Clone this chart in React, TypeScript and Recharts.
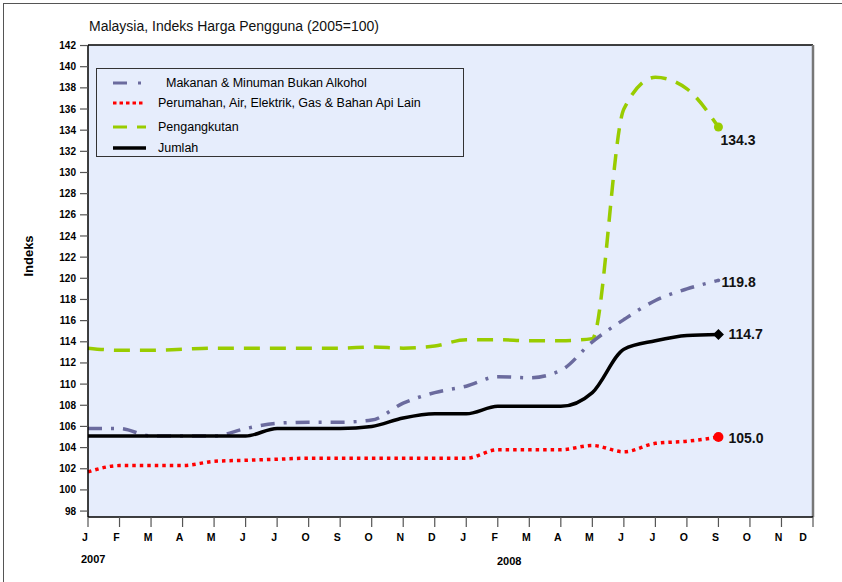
import React from 'react';
import { LineChart, Line, XAxis, YAxis, CartesianGrid, ReferenceLine } from 'recharts';

// label bulan (Jan 2007 - Dis 2008), ikut carta asal
const bulan = ['J', 'F', 'M', 'A', 'M', 'J', 'J', 'O', 'S', 'O', 'N', 'D', 'J', 'F', 'M', 'A', 'M', 'J', 'J', 'O', 'S', 'O', 'N', 'D'];
const yTicks = [98, 100, 102, 104, 106, 108, 110, 112, 114, 116, 118, 120, 122, 124, 126, 128, 130, 132, 134, 136, 138, 140, 142];

// indeks bulanan, Jan 2007 - Sep 2008
const makanan = [105.8, 105.8, 105.1, 105.1, 105.1, 105.8, 106.3, 106.4, 106.4, 106.6, 108.2, 109.2, 109.8, 110.7, 110.6, 111.3, 114.0, 116.1, 117.9, 119.0, 119.8];
const perumahan = [101.7, 102.3, 102.3, 102.3, 102.7, 102.8, 102.9, 103.0, 103.0, 103.0, 103.0, 103.0, 103.0, 103.8, 103.8, 103.8, 104.2, 103.6, 104.4, 104.6, 105.0];
const pengangkutan = [113.4, 113.2, 113.2, 113.3, 113.4, 113.4, 113.4, 113.4, 113.4, 113.5, 113.4, 113.6, 114.2, 114.2, 114.1, 114.1, 114.3, 136.0, 139.0, 137.9, 134.3];
const jumlah = [105.1, 105.1, 105.1, 105.1, 105.1, 105.1, 105.8, 105.8, 105.8, 106.0, 106.8, 107.2, 107.2, 107.9, 107.9, 107.9, 109.2, 113.3, 114.1, 114.6, 114.7];

const data = makanan.map((v, i) => ({
  x: i,
  makanan: v,
  perumahan: perumahan[i],
  pengangkutan: pengangkutan[i],
  jumlah: jumlah[i],
}));
const last = data.length - 1;

const FONT = '"Liberation Sans", Arial, sans-serif';
const warna = {
  makanan: '#6B6B9E',
  perumahan: '#FF0000',
  pengangkutan: '#99CC00',
  jumlah: '#000000',
};

const labelStyle = { fontFamily: FONT, fontSize: 14, fontWeight: 700, fill: '#111' };

// penanda + label nilai di hujung siri
const hujung = (jenis: string) => (props: any) => {
  const { cx, cy, index, value } = props;
  if (index !== last) return <g key={`d-${jenis}-${index}`} />;
  const txt = Number(Array.isArray(value) ? value[1] : value).toFixed(1);
  if (jenis === 'pengangkutan') {
    return (
      <g key={`d-${jenis}`}>
        <circle cx={cx} cy={cy} r={4.5} fill={warna.pengangkutan} />
        <text x={cx + 2} y={cy + 13} dominantBaseline="central" {...labelStyle}>{txt}</text>
      </g>
    );
  }
  if (jenis === 'makanan') {
    return (
      <g key={`d-${jenis}`}>
        <circle cx={cx} cy={cy} r={1.8} fill={warna.makanan} />
        <text x={cx + 3} y={cy + 2} dominantBaseline="central" {...labelStyle}>{txt}</text>
      </g>
    );
  }
  if (jenis === 'jumlah') {
    const s = 5.5;
    return (
      <g key={`d-${jenis}`}>
        <polygon points={`${cx},${cy - s} ${cx + s},${cy} ${cx},${cy + s} ${cx - s},${cy}`} fill="#000" />
        <text x={cx + 10} y={cy} dominantBaseline="central" {...labelStyle}>{txt}</text>
      </g>
    );
  }
  return (
    <g key={`d-${jenis}`}>
      <circle cx={cx} cy={cy} r={5} fill={warna.perumahan} />
      <text x={cx + 10} y={cy + 1} dominantBaseline="central" {...labelStyle}>{txt}</text>
    </g>
  );
};

const XTick = (props: any) => {
  const { x, y, payload, index } = props;
  const dx = index === bulan.length - 1 ? -10 : -3;
  return (
    <text x={x + dx} y={y} dy="0.71em" textAnchor="middle" fontFamily={FONT} fontSize={10.5} fontWeight={700} fill="#000">
      {bulan[payload.value]}
    </text>
  );
};

const KotakLegenda = () => {
  const item = (top: number, left: number, icon: React.ReactNode, teks: string) => (
    <div style={{ position: 'absolute', top, left: 0, height: 16, width: '100%' }}>
      <svg width={40} height={16} style={{ position: 'absolute', left: 14, top: 0 }}>{icon}</svg>
      <span style={{ position: 'absolute', left, top: 0, lineHeight: '16px', whiteSpace: 'nowrap' }}>{teks}</span>
    </div>
  );
  return (
    <div style={{ position: 'absolute', left: 96, top: 68, width: 368, height: 89, boxSizing: 'border-box', border: '1px solid #333', background: '#E6EDFC', fontFamily: FONT, fontSize: 12.5, color: '#000' }}>
      {item(6, 69,
        <g>
          <line x1={2} x2={16} y1={8} y2={8} stroke={warna.makanan} strokeWidth={3} />
          <line x1={27} x2={30} y1={8} y2={8} stroke={warna.makanan} strokeWidth={3} />
        </g>, 'Makanan & Minuman Bukan Alkohol')}
      {item(26, 61,
        <line x1={2} x2={33} y1={8} y2={8} stroke={warna.perumahan} strokeWidth={3} strokeDasharray="3.5 3" />,
        'Perumahan, Air, Elektrik, Gas & Bahan Api Lain')}
      {item(50, 61,
        <g>
          <line x1={2} x2={16} y1={8} y2={8} stroke={warna.pengangkutan} strokeWidth={3} />
          <line x1={26} x2={35} y1={8} y2={8} stroke={warna.pengangkutan} strokeWidth={3} />
        </g>, 'Pengangkutan')}
      {item(71, 61,
        <line x1={2} x2={35} y1={8} y2={8} stroke="#000" strokeWidth={3.5} />, 'Jumlah')}
    </div>
  );
};

export default function App() {
  return (
    <div style={{ position: 'absolute', left: 0, top: 0, width: 842, height: 582, background: '#fff', fontFamily: FONT }}>
      <div style={{ position: 'absolute', left: 3, top: 3, width: 839, height: 579, borderLeft: '1.5px solid #555', borderTop: '1.5px solid #555' }} />
      <div style={{ position: 'absolute', left: 89, top: 19, fontSize: 14, lineHeight: 1, color: '#111', whiteSpace: 'nowrap' }}>
        Malaysia, Indeks Harga Pengguna (2005=100)
      </div>
      <LineChart
        width={842}
        height={582}
        data={data}
        margin={{ top: 45, right: 29, bottom: 35, left: 0 }}
        style={{ position: 'absolute', left: 0, top: 0 }}
      >
        <CartesianGrid fill="#E6EDFC" horizontal={false} vertical={false} />
        <XAxis
          dataKey="x"
          type="number"
          domain={[0, 23]}
          ticks={bulan.map((_, i) => i)}
          interval={0}
          height={30}
          tickSize={10}
          tickMargin={7}
          tickLine={{ stroke: '#555', strokeWidth: 1.2 }}
          axisLine={{ stroke: '#000', strokeWidth: 1.5 }}
          tick={<XTick />}
        />
        <YAxis
          type="number"
          domain={[97.44, 142.05]}
          ticks={yTicks}
          interval={0}
          width={88}
          tickSize={8}
          tickMargin={4}
          tickLine={{ stroke: '#555', strokeWidth: 1.2 }}
          axisLine={{ stroke: '#000', strokeWidth: 1.5 }}
          tick={{ fontFamily: FONT, fontSize: 10, fontWeight: 700, fill: '#000' }}
          label={{
            content: () => (
              <text x={28} y={256} transform="rotate(-90 28 256)" textAnchor="middle" dominantBaseline="central" fontFamily={FONT} fontSize={13} fontWeight={700} fill="#000">
                Indeks
              </text>
            ),
          }}
        />
        <ReferenceLine y={142.05} stroke="#000" strokeWidth={1.5} />
        <ReferenceLine x={23} stroke="#777" strokeWidth={2.5} />
        <Line type="monotone" dataKey="pengangkutan" stroke={warna.pengangkutan} strokeWidth={3.5} strokeDasharray="16 10" dot={hujung('pengangkutan')} activeDot={false} isAnimationActive={false} />
        <Line type="monotone" dataKey="makanan" stroke={warna.makanan} strokeWidth={3.5} strokeDasharray="14 9 3 9" dot={hujung('makanan')} activeDot={false} isAnimationActive={false} />
        <Line type="monotone" dataKey="perumahan" stroke={warna.perumahan} strokeWidth={3.5} strokeDasharray="3.5 4" dot={hujung('perumahan')} activeDot={false} isAnimationActive={false} />
        <Line type="monotone" dataKey="jumlah" stroke={warna.jumlah} strokeWidth={3.5} dot={hujung('jumlah')} activeDot={false} isAnimationActive={false} />
      </LineChart>
      <KotakLegenda />
      <div style={{ position: 'absolute', left: 81, top: 553, fontSize: 11, fontWeight: 700, color: '#000' }}>2007</div>
      <div style={{ position: 'absolute', left: 497, top: 555, fontSize: 11, fontWeight: 700, color: '#000' }}>2008</div>
    </div>
  );
}
